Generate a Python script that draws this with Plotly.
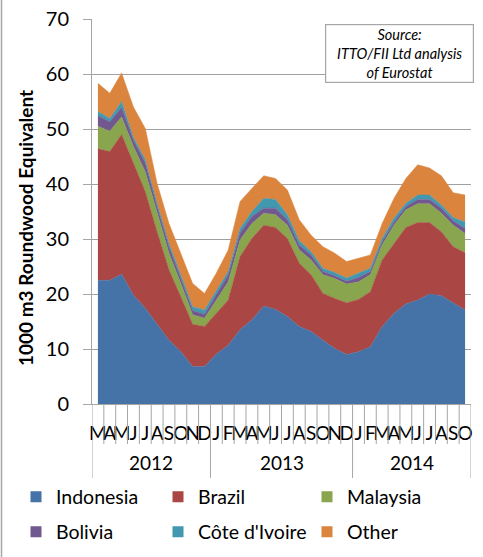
import plotly.graph_objects as go

months = ["M","A","M","J","J","A","S","O","N","D",
          "J","F","M","A","M","J","J","A","S","O","N","D",
          "J","F","M","A","M","J","J","A","S","O"]
years = ["2012", "2013", "2014"]
year_counts = [10, 12, 10]

indonesia = [22.5,22.5,23.6,19.8,17.4,14.4,11.6,9.5,6.8,6.8,9.1,10.7,13.5,15.3,17.8,17.2,
             15.9,14.1,13.2,11.6,10.1,9.0,9.5,10.4,14.1,16.5,18.2,18.9,20.0,19.7,18.4,17.1]
brazil = [23.9,23.4,25.4,24.0,21.2,16.9,12.8,10.0,7.7,7.3,7.4,8.2,13.3,14.8,14.7,14.9,
          14.2,11.5,10.3,8.5,9.1,9.4,9.5,10.0,12.1,12.7,13.9,14.1,13.0,11.6,10.2,10.4]
malaysia = [4.1,3.7,3.2,3.0,3.6,3.4,3.0,2.4,1.7,1.5,2.3,3.3,3.0,2.7,2.2,2.3,
            2.4,2.4,2.7,3.4,3.6,3.4,3.2,3.1,2.7,3.3,3.2,3.4,3.4,3.4,3.9,3.5]
bolivia = [1.9,1.7,1.7,1.2,1.6,1.2,1.2,0.9,0.8,0.7,1.0,1.3,1.3,1.3,0.9,1.2,
           1.0,0.9,0.9,0.6,0.5,0.5,0.8,0.6,0.6,0.6,0.6,0.8,0.8,0.9,0.8,0.9]
cote = [0.8,0.6,1.1,0.5,0.6,0.6,0.6,0.7,0.7,0.8,0.7,0.6,0.8,0.9,1.8,1.6,
        0.9,0.8,0.6,0.6,0.6,0.6,0.8,0.6,0.6,0.7,0.6,0.8,0.8,0.6,0.6,1.2]
other = [5.1,4.6,5.2,5.5,5.7,3.6,3.6,3.9,4.2,3.0,3.3,3.9,4.9,4.2,4.1,3.8,
         4.5,3.8,3.0,3.9,3.5,3.0,2.7,2.4,2.7,3.6,4.5,5.5,4.9,5.3,4.5,4.9]

series_names = ["Indonesia", "Brazil", "Malaysia", "Bolivia", "Côte d'Ivoire", "Other"]
series_values = [indonesia, brazil, malaysia, bolivia, cote, other]
colors = ["#4572A7", "#AA4643", "#89A54E", "#71588F", "#4198AF", "#DB843D"]

x = list(range(len(months)))
FONT = "Lato, Carlito, Calibri, sans-serif"

# geometry helpers
L, R, T, B = 92, 12, 19, 153
W, H = 483, 557
pw, ph = W - L - R, H - T - B

def py(pix):
    return (H - B - pix) / ph

def px(pix):
    return (pix - L) / pw

legend_ids = ["legend", "legend2", "legend3", "legend4", "legend5", "legend6"]
legend_pos = [(16, 497), (158, 497), (307, 497), (16, 532), (158, 532), (307, 532)]

fig = go.Figure()
for name, vals, col in zip(series_names, series_values, colors):
    fig.add_trace(go.Scatter(x=x, y=vals, name=name, mode="lines", stackgroup="one",
                             line=dict(width=0.5, color=col), fillcolor=col,
                             showlegend=False, hoverinfo="x+y+name"))
for name, col, lid in zip(series_names, colors, legend_ids):
    fig.add_trace(go.Scatter(x=[None], y=[None], name=name, mode="markers",
                             marker=dict(symbol="square", size=11, color=col),
                             showlegend=True, legend=lid))

shapes = []
n = len(months)
bounds_year = [0]
for c in year_counts:
    bounds_year.append(bounds_year[-1] + c)
for i in range(n + 1):
    long_line = i in bounds_year
    shapes.append(dict(type="line", xref="x", yref="paper",
                       x0=i - 0.5, x1=i - 0.5, y0=0, y1=py(478 if long_line else 444),
                       line=dict(color="#A6A6A6", width=1)))
# left border of the chart
shapes.append(dict(type="line", xref="paper", yref="paper",
                   x0=px(1.5), x1=px(1.5), y0=py(0), y1=py(H),
                   line=dict(color="#A6A6A6", width=1.5)))

annotations = []
for yr, a, b in zip(years, bounds_year[:-1], bounds_year[1:]):
    annotations.append(dict(text=yr, x=(a + b - 1) / 2, xref="x", y=py(462), yref="paper",
                            showarrow=False, font=dict(family=FONT, size=19, color="#000000"),
                            xanchor="center", yanchor="middle"))
annotations.append(dict(text="<i>Source:<br>ITTO/FII Ltd analysis<br>of Eurostat</i>",
                        x=px(399.5), y=py(53), xref="paper", yref="paper",
                        showarrow=False, align="center", xanchor="center", yanchor="middle",
                        font=dict(family=FONT, size=14.5, color="#000000"),
                        bgcolor="#FFFFFF", bordercolor="#A6A6A6", borderwidth=1.2,
                        borderpad=1, width=145))
annotations.append(dict(text="<b>1000 m3 Roundwood Equivalent</b>", textangle=-90,
                        x=px(25), y=py(228), xref="paper", yref="paper", showarrow=False,
                        xanchor="center", yanchor="middle",
                        font=dict(family=FONT, size=19, color="#000000")))

legends = {}
for lid, (lx, ly) in zip(legend_ids, legend_pos):
    legends[lid] = dict(orientation="h", xanchor="left", yanchor="middle",
                        xref="container", yref="container",
                        x=lx / W, y=1 - ly / H,
                        font=dict(family=FONT, size=19.5, color="#000000"), itemwidth=30,
                        bgcolor="rgba(0,0,0,0)")

fig.update_layout(
    width=W, height=H,
    margin=dict(l=L, r=R, t=T, b=B, autoexpand=False),
    paper_bgcolor="#FFFFFF", plot_bgcolor="#FFFFFF",
    font=dict(family=FONT, color="#000000"),
    showlegend=True,
    xaxis=dict(range=[-0.5, n - 0.5], tickmode="array", tickvals=x, ticktext=months,
               tickangle=0, ticks="", showgrid=False, zeroline=False, showline=True,
               linecolor="#A6A6A6", linewidth=1, automargin=False,
               tickfont=dict(family=FONT, size=19, color="#000000"),
               ticklabelstandoff=12, fixedrange=True),
    yaxis=dict(range=[0, 70], dtick=10, tick0=0, showgrid=True, gridcolor="#A0A0A0",
               gridwidth=1, zeroline=False, showline=True, linecolor="#A6A6A6",
               ticks="outside", ticklen=8, tickcolor="#A6A6A6", automargin=False,
               tickfont=dict(family=FONT, size=20, color="#000000"),
               ticklabelstandoff=10, fixedrange=True),
    shapes=shapes,
    annotations=annotations,
    **legends,
)

fig.write_html("out.html", config={"displayModeBar": False},
               post_script="document.body.style.margin='0';")
